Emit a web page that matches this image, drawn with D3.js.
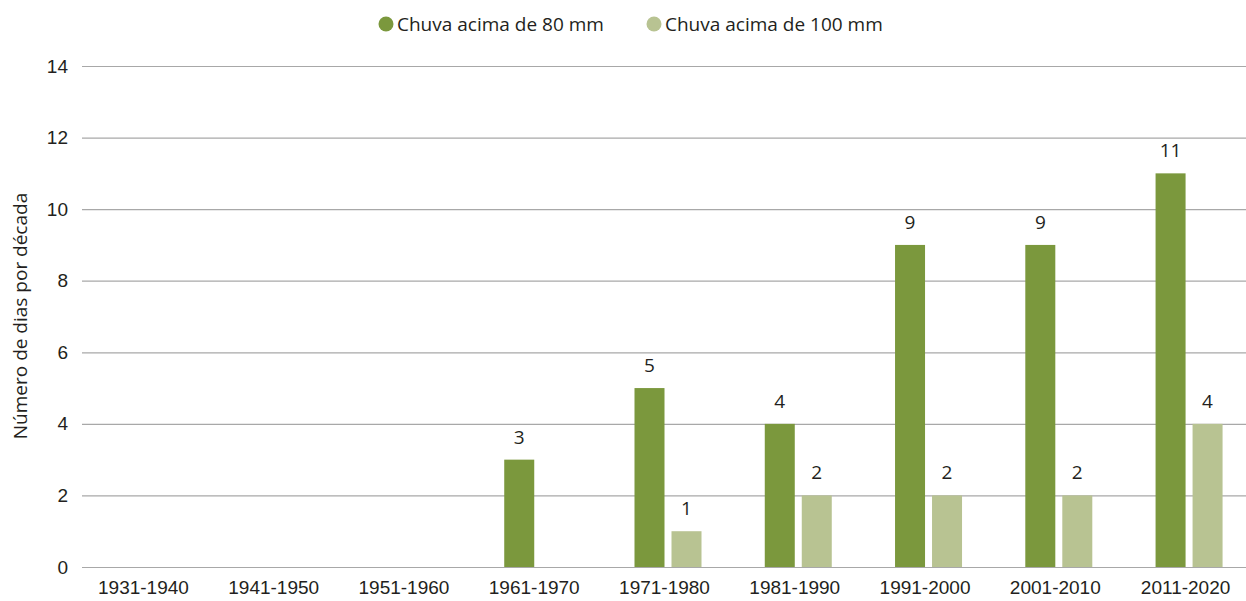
<!DOCTYPE html>
<html>
<head>
<meta charset="utf-8">
<script src="https://cdn.jsdelivr.net/npm/d3@7"></script>
<style>
  body { margin: 0; background: #fff; }
  svg { display: block; font-family: "Open Sans", "Noto Sans", sans-serif; }
  .tick text { fill: #231f20; }
</style>
</head>
<body>
<svg id="chart" width="1246" height="601"></svg>
<script>
/** ------------- DATA -------------- */
const decades = ["1931-1940", "1941-1950", "1951-1960", "1961-1970", "1971-1980",
                 "1981-1990", "1991-2000", "2001-2010", "2011-2020"];
const seriesNames = ["Chuva acima de 80 mm", "Chuva acima de 100 mm"];
const above80 = [0, 0, 0, 3, 5, 4, 9, 9, 11];
const above100 = [0, 0, 0, 0, 1, 2, 2, 2, 4];
const yTicks = [0, 2, 4, 6, 8, 10, 12, 14];
const colors = ["#7b983d", "#b8c392"];

const svg = d3.select("#chart");
const fs = "19px";

/** scales */
const x = d3.scaleBand().domain(decades).range([78.3, 1250.7]);
const xs = d3.scaleBand().domain(seriesNames).range([-30, 37]).paddingInner(0.189);
const y = d3.scaleLinear().domain([0, 14]).range([567, 66]);

/** gridlines + y axis */
const yAxis = svg.append("g")
    .attr("transform", "translate(82,0)")
    .call(d3.axisLeft(y).tickValues(yTicks).tickSize(-1164).tickPadding(14));
yAxis.select(".domain").remove();
yAxis.selectAll(".tick line").attr("stroke", "#a8a8a8").attr("stroke-width", 1.2);
yAxis.selectAll(".tick text").style("font-size", fs);

/** x axis labels */
const xAxis = svg.append("g")
    .attr("transform", "translate(0,567)")
    .call(d3.axisBottom(x).tickSize(0).tickPadding(14));
xAxis.select(".domain").remove();
xAxis.selectAll(".tick text").style("font-size", fs);

/** bars */
const rows = decades.map((d, i) => ({ decade: d, values: [above80[i], above100[i]] }));
const groups = svg.append("g")
    .selectAll("g")
    .data(rows)
    .join("g")
    .attr("transform", d => `translate(${x(d.decade) + x.bandwidth() / 2},0)`);

const cells = groups.selectAll("g")
    .data(d => d.values.map((v, k) => ({ name: seriesNames[k], value: v, k: k })).filter(c => c.value > 0))
    .join("g");

cells.append("rect")
    .attr("x", d => xs(d.name))
    .attr("width", xs.bandwidth())
    .attr("y", d => y(d.value))
    .attr("height", d => y(0) - y(d.value))
    .attr("fill", d => colors[d.k]);

cells.append("text")
    .attr("x", d => xs(d.name) + xs.bandwidth() / 2)
    .attr("y", d => y(d.value) - 16)
    .attr("text-anchor", "middle")
    .style("font-size", fs)
    .attr("fill", "#231f20")
    .text(d => d.value);

/** y title */
svg.append("text")
    .attr("transform", "translate(27,316) rotate(-90)")
    .attr("text-anchor", "middle")
    .style("font-size", fs)
    .attr("fill", "#231f20")
    .text("Número de dias por década");

/** legend */
const legendX = [386, 654];
const legend = svg.append("g")
    .selectAll("g")
    .data(seriesNames)
    .join("g")
    .attr("transform", (d, i) => `translate(${legendX[i]},24)`);
legend.append("circle").attr("r", 7.5).attr("fill", (d, i) => colors[i]);
legend.append("text")
    .attr("x", 11)
    .attr("dy", "0.35em")
    .style("font-size", fs)
    .attr("fill", "#231f20")
    .text(d => d);
</script>
</body>
</html>
